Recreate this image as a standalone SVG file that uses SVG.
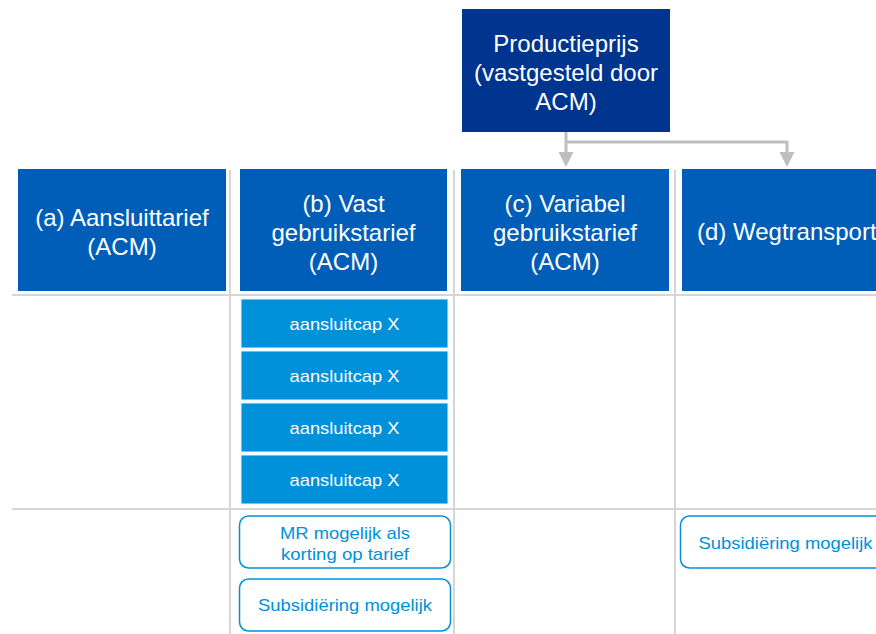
<svg xmlns="http://www.w3.org/2000/svg" width="876" height="634" viewBox="0 0 876 634">
<defs>
<style>
.grid{stroke:#D6D6D6;stroke-width:2;fill:none}
.top{fill:#00358F}
.hdr{fill:#005EB8}
.cap{fill:#0091DA;stroke:#E6F4FB;stroke-width:1}
.note{fill:#FFFFFF;stroke:#0091DA;stroke-width:1.5}
.big{font-family:"Liberation Sans",Arial,sans-serif;font-size:24px;fill:#FFFFFF;text-anchor:middle}
.sm{font-family:"Liberation Sans",Arial,sans-serif;font-size:17px;fill:#FFFFFF;text-anchor:middle}
.nt{font-family:"Liberation Sans",Arial,sans-serif;font-size:17px;fill:#0091DA;text-anchor:middle}
.conn{stroke:#BFBFBF;stroke-width:3;fill:none}
</style>
<marker id="arr" viewBox="0 0 15 15" refX="0" refY="7.5" markerWidth="15" markerHeight="15" markerUnits="userSpaceOnUse" orient="auto">
<path d="M0,0 L15,7.5 L0,15 Z" fill="#BFBFBF"/>
</marker>
</defs>
<rect width="876" height="634" fill="#FFFFFF"/>
<g id="grid">
<line class="grid" x1="230" y1="170" x2="230" y2="634"/>
<line class="grid" x1="454" y1="170" x2="454" y2="634"/>
<line class="grid" x1="675" y1="170" x2="675" y2="634"/>
<line class="grid" x1="12" y1="295" x2="876" y2="295"/>
<line class="grid" x1="12" y1="509" x2="876" y2="509"/>
</g>
<g id="connectors">
<polyline class="conn" points="566,132 566,152" marker-end="url(#arr)"/>
<polyline class="conn" points="566,142 787,142 787,152" marker-end="url(#arr)"/>
</g>
<g id="productieprijs">
<rect class="top" x="462" y="9" width="208" height="123"/>
<text class="big" x="566" y="52">Productieprijs</text>
<text class="big" x="566" y="81">(vastgesteld door</text>
<text class="big" x="566" y="110">ACM)</text>
</g>
<g id="hdr-a">
<rect class="hdr" x="18" y="169" width="208" height="122"/>
<text class="big" x="122" y="226">(a) Aansluittarief</text>
<text class="big" x="122" y="255">(ACM)</text>
</g>
<g id="hdr-b">
<rect class="hdr" x="240" y="169" width="207" height="122"/>
<text class="big" x="343.5" y="212">(b) Vast</text>
<text class="big" x="343.5" y="241">gebruikstarief</text>
<text class="big" x="343.5" y="270">(ACM)</text>
</g>
<g id="hdr-c">
<rect class="hdr" x="461" y="169" width="208" height="122"/>
<text class="big" x="565" y="212">(c) Variabel</text>
<text class="big" x="565" y="241">gebruikstarief</text>
<text class="big" x="565" y="270">(ACM)</text>
</g>
<g id="hdr-d">
<rect class="hdr" x="682" y="169" width="208" height="122"/>
<text class="big" x="697" y="240" style="text-anchor:start">(d) Wegtransport</text>
</g>
<g id="cap1">
<rect class="cap" x="241" y="299" width="207" height="49"/>
<text class="sm" x="344.5" y="330" textLength="110" lengthAdjust="spacingAndGlyphs">aansluitcap X</text>
</g>
<g id="cap2">
<rect class="cap" x="241" y="351" width="207" height="49"/>
<text class="sm" x="344.5" y="382" textLength="110" lengthAdjust="spacingAndGlyphs">aansluitcap X</text>
</g>
<g id="cap3">
<rect class="cap" x="241" y="403" width="207" height="49"/>
<text class="sm" x="344.5" y="434" textLength="110" lengthAdjust="spacingAndGlyphs">aansluitcap X</text>
</g>
<g id="cap4">
<rect class="cap" x="241" y="455" width="207" height="49"/>
<text class="sm" x="344.5" y="486" textLength="110" lengthAdjust="spacingAndGlyphs">aansluitcap X</text>
</g>
<g id="note-mr">
<rect class="note" x="239.5" y="516" width="211" height="52" rx="9"/>
<text class="nt" x="345" y="538.5" textLength="130" lengthAdjust="spacingAndGlyphs">MR mogelijk als</text>
<text class="nt" x="345" y="560" textLength="128" lengthAdjust="spacingAndGlyphs">korting op tarief</text>
</g>
<g id="note-sub-b">
<rect class="note" x="239.5" y="579" width="211" height="52" rx="9"/>
<text class="nt" x="345" y="611" textLength="174" lengthAdjust="spacingAndGlyphs">Subsidiëring mogelijk</text>
</g>
<g id="note-sub-d">
<rect class="note" x="680.5" y="516" width="211" height="52" rx="9"/>
<text class="nt" x="785.5" y="549" textLength="174" lengthAdjust="spacingAndGlyphs">Subsidiëring mogelijk</text>
</g>
</svg>
